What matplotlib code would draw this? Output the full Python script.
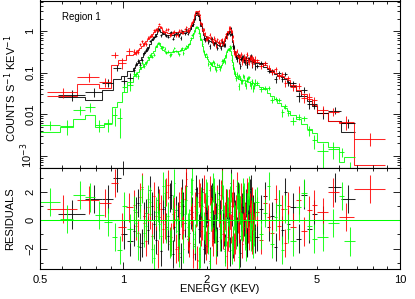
import numpy as np
import matplotlib
matplotlib.use("Agg")
import matplotlib.pyplot as plt
from matplotlib.ticker import FixedLocator, FixedFormatter, NullFormatter

# ---------------- data ----------------
DENSE_EDGES = [1.08, 1.10, 1.12, 1.14, 1.16, 1.18, 1.20, 1.22, 1.24, 1.26, 1.28, 1.30,
               1.32, 1.34, 1.36, 1.38, 1.40, 1.42, 1.44, 1.46, 1.48, 1.50, 1.52, 1.54,
               1.56, 1.58, 1.60, 1.62, 1.64, 1.66, 1.68, 1.70, 1.72, 1.74, 1.76, 1.78,
               1.80, 1.82, 1.84, 1.86, 1.88, 1.90, 1.92, 1.94, 1.96, 1.98, 2.00, 2.02,
               2.04, 2.06, 2.08, 2.10, 2.12, 2.14, 2.16, 2.18, 2.20, 2.22, 2.24, 2.26,
               2.28, 2.30, 2.32, 2.34, 2.36, 2.38, 2.40, 2.42, 2.44, 2.46, 2.48, 2.50,
               2.52, 2.54, 2.56, 2.58, 2.60, 2.62, 2.64, 2.66, 2.68, 2.70, 2.72, 2.74,
               2.76, 2.78, 2.80, 2.82, 2.84, 2.86, 2.88, 2.90, 2.92, 2.94, 2.96, 2.98,
               3.00]
MID_EDGES = [3.1, 3.2, 3.3, 3.4, 3.5, 3.6, 3.7, 3.8, 3.9, 4.0]
E45_EDGES = [4.2, 4.4, 4.6, 4.8, 5.0]

black_edges = [0.58, 0.73, 0.84, 0.92, 0.98, 1.03] + DENSE_EDGES + MID_EDGES + E45_EDGES + [5.5, 6.1, 6.9]
red_edges = [0.53, 0.68, 0.82, 0.90, 0.96, 1.02] + DENSE_EDGES + MID_EDGES + E45_EDGES + [5.5, 6.0, 6.8, 8.8]
green_edges = [0.50, 0.59, 0.66, 0.73, 0.79, 0.85, 0.91, 0.95, 0.99, 1.03] + DENSE_EDGES + MID_EDGES + E45_EDGES + [5.5, 6.0, 6.3, 6.9]

black_model = [0.026, 0.022, 0.038, 0.070, 0.085, 0.11,
               0.13, 0.15, 0.17, 0.20, 0.24, 0.29, 0.34, 0.41, 0.49, 0.60, 0.72, 0.86,
               1.00, 1.08, 0.95, 0.86, 0.83, 0.81, 0.80, 0.80, 0.81, 0.82, 0.84, 0.85,
               0.86, 0.87, 0.88, 0.88, 0.89, 0.91, 0.93, 0.97, 1.05, 1.15, 1.35, 1.65,
               2.10, 2.45, 2.60, 2.35, 1.85, 1.35, 1.00, 0.80, 0.70, 0.66, 0.63, 0.61,
               0.59, 0.57, 0.56, 0.54, 0.53, 0.51, 0.49, 0.47, 0.46, 0.45, 0.44, 0.44,
               0.46, 0.50, 0.57, 0.67, 0.80, 0.90, 0.98, 1.02, 0.96, 0.80, 0.55, 0.38,
               0.29, 0.25, 0.235, 0.225, 0.22, 0.215, 0.21, 0.21, 0.21, 0.205, 0.20, 0.20,
               0.20, 0.20, 0.20, 0.20, 0.20, 0.195, 0.19, 0.19, 0.185, 0.18, 0.18, 0.175,
               0.17, 0.16, 0.14, 0.12, 0.105, 0.095, 0.085, 0.078, 0.072, 0.060,
               0.048, 0.036, 0.028, 0.021, 0.016,
               0.011, 0.0068, 0.0038]
red_model = [0.027, 0.053, 0.042, 0.15, 0.20, 0.27,
             0.28, 0.32, 0.36, 0.40, 0.45, 0.51, 0.57, 0.64, 0.72, 0.85, 0.93, 1.08,
             1.22, 1.35, 1.18, 1.02, 0.97, 0.94, 0.92, 0.92, 0.92, 0.92, 0.93, 0.94,
             0.95, 0.95, 0.96, 0.97, 0.98, 1.00, 1.03, 1.08, 1.18, 1.32, 1.60, 2.00,
             2.50, 2.90, 3.05, 2.75, 2.20, 1.60, 1.15, 0.92, 0.82, 0.78, 0.74, 0.71,
             0.69, 0.67, 0.65, 0.63, 0.61, 0.59, 0.57, 0.55, 0.53, 0.52, 0.51, 0.51,
             0.53, 0.58, 0.65, 0.77, 0.90, 1.02, 1.12, 1.17, 1.10, 0.90, 0.62, 0.42,
             0.33, 0.28, 0.26, 0.25, 0.245, 0.24, 0.235, 0.23, 0.23, 0.23, 0.225, 0.22,
             0.22, 0.22, 0.22, 0.22, 0.215, 0.21, 0.21, 0.21, 0.205, 0.20, 0.20, 0.195,
             0.185, 0.17, 0.15, 0.13, 0.115, 0.10, 0.09, 0.082, 0.075, 0.065,
             0.050, 0.038, 0.030, 0.023, 0.017,
             0.011, 0.0068, 0.0060, 0.0006]
green_model = [0.0037, 0.0050, 0.0076, 0.0095, 0.0050, 0.0060, 0.015, 0.020, 0.035, 0.060,
               0.085, 0.095, 0.105, 0.12, 0.14, 0.16, 0.18, 0.205, 0.235, 0.29, 0.34, 0.42,
               0.48, 0.52, 0.43, 0.35, 0.33, 0.32, 0.31, 0.31, 0.315, 0.32, 0.325, 0.33,
               0.335, 0.34, 0.345, 0.355, 0.36, 0.38, 0.40, 0.45, 0.50, 0.60, 0.70, 0.90,
               1.08, 1.20, 1.25, 1.10, 0.90, 0.60, 0.45, 0.33, 0.28, 0.24, 0.21, 0.19,
               0.18, 0.165, 0.155, 0.148, 0.143, 0.14, 0.14, 0.14, 0.14, 0.14, 0.145, 0.155,
               0.17, 0.20, 0.22, 0.27, 0.31, 0.36, 0.38, 0.39, 0.34, 0.26, 0.18, 0.12,
               0.095, 0.085, 0.077, 0.073, 0.071, 0.069, 0.068, 0.067, 0.066, 0.066, 0.065, 0.065,
               0.064, 0.063, 0.062, 0.061, 0.060, 0.059, 0.058, 0.057, 0.056, 0.055, 0.054, 0.053,
               0.050, 0.045, 0.040, 0.033, 0.028, 0.023, 0.019, 0.016, 0.014, 0.012,
               0.0095, 0.0075, 0.0058, 0.0045, 0.0035,
               0.0022, 0.0016, 0.0007, 0.00095]

black_resid = [0.4, 1.5, 1.5, 3.0, -1.0, -1.5,
               -0.8, 0.6, 1.2, -1.9, -1.6, 0.3, 0.5, -0.7, 2.1, 1.0, -0.3, -1.4,
               1.4, 0.2, -2.2, 0.8, 0.9, -0.5, -1.1, 1.6, 1.8, -2.4, -0.5, 0.7,
               0.3, -1.0, -2.6, 1.9, 1.0, -0.2, 2.4, -1.3, -0.9, 0.4, 0.6, -1.7,
               -1.8, 2.2, 1.3, -0.6, -0.2, 1.1, 2.0, -2.0, -1.4, 0.5, 0.8, -0.9,
               -2.9, 1.5, 1.6, -0.3, -0.6, 0.9, 0.2, -1.5, 1.9, 0.4, -1.2, 2.7,
               0.7, -0.8, -2.0, 1.2, 1.1, -0.1, -0.4, -2.2, 2.6, 0.6, -1.7, 1.0,
               0.4, -0.3, -0.8, 1.7, 1.5, -1.1, -2.3, 0.2, 0.9, 1.4, -0.1, -0.7,
               1.2, -1.6, -1.5, 0.5, 0.6, 1.9, 2.2, -0.4, -1.0, 0.8, 0.3, -1.3,
               -1.2, 0.8, 1.7, -0.5, 0.3, -1.9, 1.1, -0.7, 2.0, -0.3,
               0.9, -1.3, 1.8, -0.6, 0.4,
               0.0, 2.3, 1.5]
red_resid = [0.8, 1.4, 1.2, 2.6, -0.5, 0.9,
             1.1, -0.4, -0.9, 1.6, 2.3, -0.2, -1.5, 0.9, 0.4, -1.1, 1.7, 0.3,
             -2.4, 1.2, 0.8, -0.6, -0.3, 2.0, 2.5, -1.5, -1.2, 0.4, 0.6, -2.0,
             -1.9, 1.0, 1.3, -0.3, -0.7, 1.5, 2.9, -1.1, -1.6, 0.7, 0.2, -2.4,
             1.0, 0.5, -2.8, 1.9, 1.6, -0.8, -0.4, 2.2, 0.9, -1.8, -1.3, 0.1,
             2.1, 0.6, -0.8, -1.5, 1.4, 0.2, -2.1, 1.5, 0.5, -0.6, 1.8, 2.6,
             -1.0, -0.5, 0.3, 1.2, -2.5, -1.2, 1.2, 0.4, -0.6, 1.0, 1.9, -1.9,
             -1.4, 0.8, 2.4, 0.1, -0.2, -1.3, 0.7, 1.6, -1.7, -0.5, 1.1, 0.3,
             -0.9, 2.0, 1.6, -0.6, -1.1, 0.9, 0.4, -1.4, 1.3, 0.2, -0.5, 1.0,
             0.6, -1.4, 1.2, 0.2, -0.9, 1.5, -0.4, 0.8, -1.6, 1.0,
             -0.5, 1.4, -0.8, 0.7, 1.1,
             0.55, 1.95, 0.2, 2.2]
green_resid = [1.26, 0.1, 1.75, 1.6, 0.35, -0.14, -1.2, -2.1, 1.0, -0.6,
               0.7, -0.2, -1.8, 1.1, 2.2, -0.9, -0.4, 1.5, 1.3, -2.0, -2.7, 0.6,
               0.9, -0.3, -1.1, 2.4, 1.9, -0.6, 0.3, -1.7, -1.5, 0.8, 2.6, 0.1,
               -0.8, -2.3, 0.5, 1.2, -2.0, 0.4, 1.4, -0.5, -0.2, 2.0, 2.8, -1.0,
               -1.3, 0.7, 0.6, -2.9, -2.4, 1.3, 1.0, -0.4, -0.7, 1.9, 1.7, -1.4,
               -3.0, 0.2, 0.4, 2.3, 2.0, -0.6, -1.6, 1.1, 0.8, -1.2, -0.3, 2.5,
               1.5, 0.1, -2.2, -0.8, 1.2, 0.6, -0.9, 1.4, 2.3, -2.1, -1.4, 0.3,
               0.1, -1.0, 1.8, 0.9, -2.6, 1.6, 0.7, -0.4, -0.5, 2.0, 1.6, -1.1,
               -1.9, 0.5, 0.9, 1.7, 2.1, -0.5, -1.2, 0.6, 0.3, -1.7, -0.8, 1.2,
               1.3, -1.0, 0.5, 2.4, -1.7, 0.2, 1.1, -2.1, 0.8, -0.6,
               -1.5, 0.9, 1.9, -0.4, -1.3,
               -1.2, -0.2, 1.7, -1.5]

# relative 1-sigma errors
FRAC_DENSE = [0.14, 0.13, 0.12, 0.12, 0.11, 0.10, 0.10, 0.09, 0.085, 0.08, 0.075, 0.07,
              0.065, 0.065, 0.07, 0.075, 0.08, 0.08, 0.08, 0.08, 0.08, 0.08, 0.08, 0.08,
              0.08, 0.08, 0.08, 0.08, 0.08, 0.08, 0.075, 0.075, 0.07, 0.065, 0.06, 0.055,
              0.05, 0.05, 0.05, 0.055, 0.06, 0.07, 0.08, 0.085, 0.09, 0.09, 0.09, 0.095,
              0.095, 0.095, 0.10, 0.10, 0.10, 0.10, 0.10, 0.10, 0.10, 0.10, 0.10, 0.10,
              0.095, 0.09, 0.085, 0.08, 0.075, 0.075, 0.075, 0.08, 0.09, 0.10, 0.11, 0.12,
              0.12, 0.12, 0.125, 0.125, 0.125, 0.125, 0.13, 0.13, 0.13, 0.13, 0.13, 0.13,
              0.13, 0.135, 0.135, 0.135, 0.135, 0.135, 0.14, 0.14, 0.14, 0.14, 0.14, 0.14]
FRAC_MID = [0.11, 0.115, 0.12, 0.125, 0.13, 0.135, 0.14, 0.145, 0.15, 0.155]
FRAC_45 = [0.17, 0.19, 0.21, 0.23, 0.25]
black_frac = [0.35, 0.40, 0.35, 0.30, 0.25, 0.22] + FRAC_DENSE + FRAC_MID + FRAC_45 + [0.30, 0.35, 0.40]
red_frac = [0.35, 0.35, 0.35, 0.30, 0.25, 0.22] + FRAC_DENSE + FRAC_MID + FRAC_45 + [0.30, 0.35, 0.40, 1.5]
green_frac = [0.40, 0.40, 0.38, 0.36, 0.36, 0.34, 0.30, 0.28, 0.26, 0.24] + FRAC_DENSE + FRAC_MID + FRAC_45 + [0.35, 0.40, 0.45, 0.50]

X_TICKS = [0.5, 1, 2, 5, 10]
X_TICK_LABELS = ["0.5", "1", "2", "5", "10"]
Y_TICKS = [1e-3, 1e-2, 1e-1, 1]
Y_TICK_LABELS = ["10$^{-3}$", "0.01", "0.1", "1"]
R_TICKS = [-2, 0, 2]
R_TICK_LABELS = ["\u22122", "0", "2"]

datasets = [
    ("black", black_edges, black_model, black_resid, black_frac),
    ("red", red_edges, red_model, red_resid, red_frac),
    ("#00ff00", green_edges, green_model, green_resid, green_frac),
]
for name, e_, m_, r_, f_ in datasets:
    n = len(e_) - 1
    if not (len(m_) == n and len(r_) == n and len(f_) == n):
        raise ValueError(f"{name}: edges {n} model {len(m_)} resid {len(r_)} frac {len(f_)}")

# ---------------- figure ----------------
plt.rcParams['font.family'] = ['Liberation Sans', 'DejaVu Sans']
fig = plt.figure(figsize=(4.15, 2.99), dpi=100)
W, H = 415.0, 299.0
L, R = 40 / W, 400 / W
ax1 = fig.add_axes([L, 1 - 168 / H, R - L, 167.5 / H])
ax2 = fig.add_axes([L, 1 - 269 / H, R - L, 101 / H], sharex=ax1)

lw = 0.75
for color, edges, model, resid, frac in datasets:
    e = np.array(edges)
    m = np.array(model)
    r = np.array(resid)
    f = np.array(frac)
    cen = 0.5 * (e[:-1] + e[1:])
    half = 0.5 * (e[1:] - e[:-1])
    sig = f * m
    data = m + r * sig
    ax1.errorbar(cen, data, xerr=half, yerr=sig, fmt='none', ecolor=color,
                 elinewidth=lw, capsize=0, alpha=0.85)
    ax1.stairs(m, e, baseline=None, color=color, linewidth=lw, alpha=0.85)
    ax2.errorbar(cen, r, xerr=half, yerr=np.ones_like(r), fmt='none', ecolor=color,
                 elinewidth=lw, capsize=0, alpha=0.85)

ax2.axhline(0, color="#00ff00", linewidth=lw)

for ax in (ax1, ax2):
    ax.set_xscale('log')
    ax.set_xlim(0.5, 10)
    ax.tick_params(which='both', direction='in', top=True, right=True, width=0.6,
                   labelsize=8, colors='black')
    ax.tick_params(which='major', length=5)
    ax.tick_params(which='minor', length=2.5)
    for s in ax.spines.values():
        s.set_linewidth(0.8)

for ax in (ax1, ax2):
    ax.xaxis.set_major_locator(FixedLocator([1, 10]))
    ax.xaxis.set_minor_locator(FixedLocator([0.5, 0.6, 0.7, 0.8, 0.9, 2, 3, 4, 5, 6, 7, 8, 9]))
    ax.xaxis.set_major_formatter(NullFormatter())
    ax.xaxis.set_minor_formatter(NullFormatter())
for xv, lab in zip(X_TICKS, X_TICK_LABELS):
    ax2.annotate(lab, xy=(xv, 0), xycoords=('data', 'axes fraction'), xytext=(0, -4),
                 textcoords='offset points', ha='center', va='top', fontsize=8)

ax1.set_yscale('log')
ax1.set_ylim(5.1e-4, 5.45)
ax1.yaxis.set_major_locator(FixedLocator(Y_TICKS))
minors = []
for dec in [1e-4, 1e-3, 1e-2, 1e-1, 1]:
    for k in range(2, 10):
        minors.append(k * dec)
ax1.yaxis.set_minor_locator(FixedLocator(minors))
ax1.yaxis.set_major_formatter(FixedFormatter(Y_TICK_LABELS))
ax1.yaxis.set_minor_formatter(NullFormatter())

ax2.set_ylim(-3.44, 3.67)
ax2.yaxis.set_major_locator(FixedLocator(R_TICKS))
ax2.yaxis.set_minor_locator(FixedLocator([-3, -1, 1, 3]))
ax2.yaxis.set_major_formatter(FixedFormatter(R_TICK_LABELS))

for ax in (ax1, ax2):
    for lab in ax.get_yticklabels():
        lab.set_rotation(90)
        lab.set_va('center')
        lab.set_ha('right')

ax1.text(0.06, 0.9, "Region 1", transform=ax1.transAxes, fontsize=7, ha='left', va='center')
fig.text(10.5 / W, 1 - 88 / H, "COUNTS S$^{-1}$ KEV$^{-1}$", rotation=90, ha='center', va='center', fontsize=8)
fig.text(10.5 / W, 1 - 219 / H, "RESIDUALS", rotation=90, ha='center', va='center', fontsize=8)
fig.text(220 / W, 1 - 289 / H, "ENERGY (KEV)", ha='center', va='center', fontsize=8)

fig.savefig("out.png", dpi=100)
